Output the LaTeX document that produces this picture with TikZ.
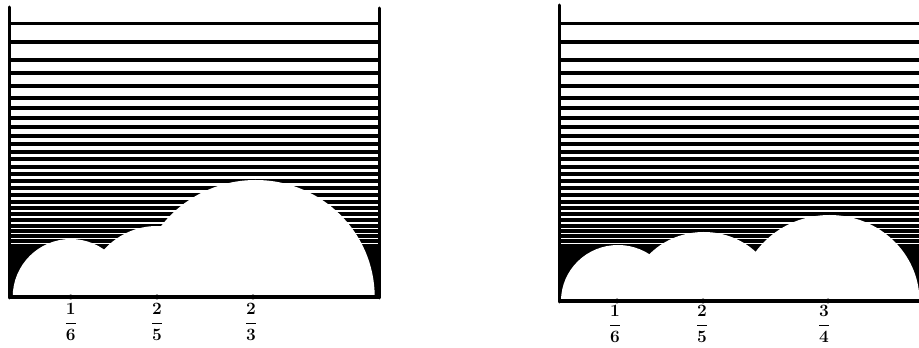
\documentclass[tikz,border=0pt]{standalone}
\usepackage{amsmath}
\usepackage{tikz}
\usetikzlibrary{calc}

\begin{document}
\begin{tikzpicture}[
        x=1pt, y=1pt,
        frame/.style={line width=3pt, line cap=round},
        base/.style={line width=4pt},
        bump/.style={fill=white},
        tickdot/.style={circle, fill=black, inner sep=0pt, minimum size=5pt},
        frac/.style={font=\LARGE\bfseries\boldmath, inner sep=1pt}
    ]
        \useasboundingbox (0,0) rectangle (919,348);

        % --- hatching, lines closer and heavier towards the bottom ---
        \foreach \xa/\xb in {9/379, 559/921} {
            \foreach \py in {24,42,60,73,86,98,108,118,127,136,144,152,159,167,174,181,188,195,202,208,214,220,226,231,236,241,246,250,254,258} {
                \pgfmathsetmacro{\lw}{3.0+1.7*(\py-24)/234}
                \draw[line width=\lw pt] (\xa,{348-\py}) -- (\xb,{348-\py});
            }
        }
        \fill (9,88) rectangle (379,51);
        \fill (559,88) rectangle (921,47);

        % --- left panel: bumps at 1/6, 2/5, 2/3 ---
        \fill[bump] (12.7,51) arc[start angle=180, end angle=0, radius=58];
        \fill[bump] (86,51) arc[start angle=180, end angle=0, radius=71];
        \fill[bump] (136.7,51) arc[start angle=180, end angle=0, x radius=119, y radius=117];
        \draw[base] (9,51) -- (379,51);
        \draw[frame] (9,341) -- (9,50);
        \draw[frame] (379,340) -- (379,50);
        \node[tickdot] (tL1) at (70.7,51) {};
        \node[tickdot] (tL2) at (157,51) {};
        \node[tickdot] (tL3) at (253,51) {};
        \node[frac] (fL1) at (70.7,26) {$\dfrac{1}{6}$};
        \node[frac] (fL2) at (157,26) {$\dfrac{2}{5}$};
        \node[frac] (fL3) at (251,26) {$\dfrac{2}{3}$};

        % --- right panel: bumps at 1/6, 2/5, 3/4 ---
        \fill[bump] (561,47) arc[start angle=180, end angle=0, x radius=57, y radius=56];
        \fill[bump] (629.8,47) arc[start angle=180, end angle=0, x radius=74, y radius=69];
        \fill[bump] (739.5,47) arc[start angle=180, end angle=0, x radius=90, y radius=86];
        \draw[base] (559,47) -- (921,47);
        \draw[frame] (559,343) -- (559,46);
        \node[tickdot] (tR1) at (617,47) {};
        \node[tickdot] (tR2) at (703,47) {};
        \node[tickdot] (tR3) at (828,47) {};
        \node[frac] (fR1) at (615,24) {$\dfrac{1}{6}$};
        \node[frac] (fR2) at (702,24) {$\dfrac{2}{5}$};
        \node[frac] (fR3) at (824,24) {$\dfrac{3}{4}$};
    \end{tikzpicture}
\end{document}
